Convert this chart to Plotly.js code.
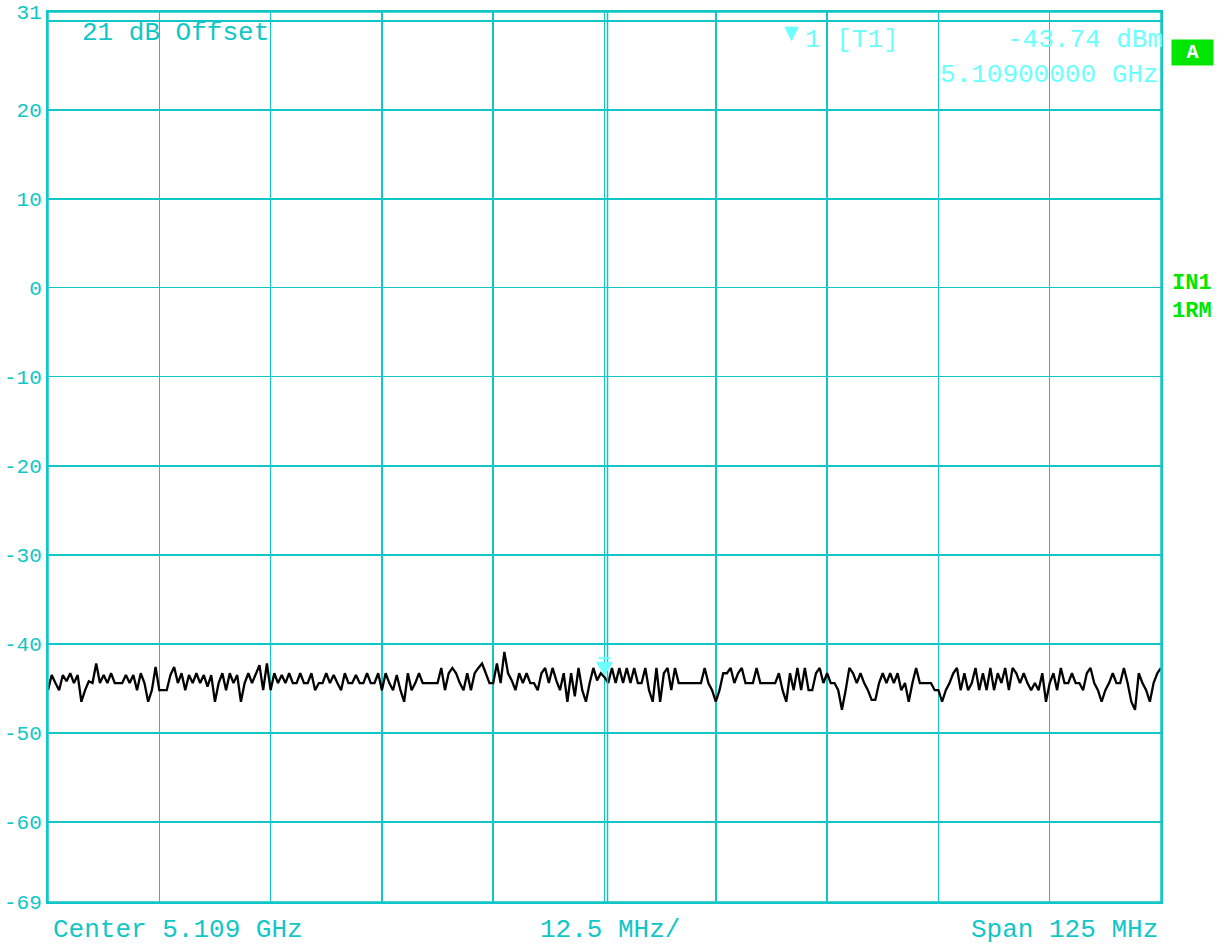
<!DOCTYPE html>
<html>
<head>
<meta charset="utf-8">
<script src="https://cdn.plot.ly/plotly-3.0.1.min.js"></script>
<style>html,body{margin:0;padding:0;background:#fff;}#chart{width:1225px;height:948px;}</style>
</head>
<body>
<div id="chart"></div>
<script>
// ---- data ----
const freqStartMHz = 5046.5;      // Center 5.109 GHz - Span/2
const freqStepMHz = 125 / 300;    // 301 sweep points over 125 MHz span
const levelDbm = [
  // div 1
  -45.2,-43.5,-44.4,-45.2,-43.5,-44.2,-43.3,-44.4,-43.5,-46.5,
  -45.2,-44.2,-44.4,-42.2,-44.4,-43.5,-44.4,-43.3,-44.4,-44.4,
  -44.4,-43.5,-44.4,-43.5,-45.2,-43.3,-44.4,-46.5,-45.2,-42.6,
  // div 2
  -45.2,-45.2,-45.2,-43.5,-42.6,-44.4,-43.3,-45.2,-43.5,-44.4,
  -43.3,-44.4,-43.5,-44.8,-43.5,-46.5,-44.4,-43.3,-45.2,-43.3,
  -44.4,-43.5,-46.5,-44.4,-43.3,-44.4,-43.3,-42.4,-45.2,-42.2,
  // div 3
  -45.2,-43.3,-44.4,-43.5,-44.4,-43.3,-44.4,-44.4,-43.3,-44.4,
  -44.4,-43.3,-45.2,-44.4,-44.4,-43.3,-44.4,-43.5,-44.4,-45.2,
  -43.3,-44.4,-44.4,-43.5,-44.4,-44.4,-43.3,-44.4,-44.4,-43.3,
  // div 4
  -45.2,-43.3,-44.4,-45.2,-43.5,-45.2,-46.5,-43.3,-45.2,-44.4,
  -43.3,-44.4,-44.4,-44.4,-44.4,-44.4,-42.7,-45.2,-43.3,-42.7,
  -43.3,-44.4,-45.2,-43.3,-45.2,-43.3,-42.7,-42.2,-43.3,-44.4,
  // div 5
  -44.4,-42.2,-44.4,-40.9,-43.3,-44.1,-45.2,-43.3,-44.4,-43.3,
  -44.4,-44.4,-45.2,-43.3,-42.7,-44.4,-42.7,-44.1,-45.2,-43.3,
  -46.5,-43.3,-45.9,-42.7,-45.2,-46.5,-44.4,-42.7,-44.1,-43.3,
  // div 6
  -43.74,-44.4,-42.7,-44.4,-42.7,-44.4,-42.7,-44.4,-42.7,-44.4,
  -44.4,-42.7,-45.2,-46.5,-42.7,-46.5,-43.3,-42.7,-45.2,-42.7,
  -44.4,-44.4,-44.4,-44.4,-44.4,-44.4,-44.4,-42.7,-44.4,-45.2,
  // div 7
  -46.5,-45.2,-43.3,-43.3,-42.7,-44.4,-43.3,-42.7,-44.4,-44.4,
  -44.4,-42.7,-44.4,-44.4,-44.4,-44.4,-44.4,-43.3,-45.2,-46.5,
  -43.3,-45.2,-42.7,-45.2,-42.7,-45.2,-45.2,-43.3,-42.7,-44.4,
  // div 8
  -43.3,-44.4,-44.4,-45.2,-47.4,-45.2,-42.7,-43.3,-44.4,-43.3,
  -44.4,-45.2,-46.3,-46.3,-44.4,-43.3,-44.4,-43.3,-44.4,-43.3,
  -45.2,-44.4,-46.5,-44.4,-42.7,-44.4,-44.4,-44.4,-44.4,-45.2,
  // div 9
  -45.2,-46.5,-45.2,-44.4,-43.3,-42.7,-45.2,-43.3,-45.2,-44.4,
  -42.7,-45.2,-43.3,-45.2,-42.7,-45.2,-43.3,-44.4,-42.7,-45.2,
  -42.7,-43.3,-44.4,-43.3,-44.4,-45.2,-44.4,-45.2,-43.3,-46.5,
  // div 10
  -44.4,-43.3,-45.2,-42.7,-44.4,-44.4,-43.3,-44.4,-44.4,-45.2,
  -43.3,-42.7,-44.4,-45.2,-46.5,-45.2,-44.4,-43.3,-44.4,-44.4,
  -42.7,-44.4,-46.5,-47.4,-43.3,-44.4,-45.2,-46.5,-44.4,-43.3,
  -42.7
];
const yTickVals = [31, 20, 10, 0, -10, -20, -30, -40, -50, -60, -69];
const yTickText = ['31', '20', '10', '0', '-10', '-20', '-30', '-40', '-50', '-60', '-69'];
const yGridVals = [30, 20, 10, 0, -10, -20, -30, -40, -50, -60];
const yRange = [-69, 31];
const xRange = [5046.5, 5171.5];
const markerFreqMHz = 5109;
const markerLevelDbm = -43.74;
const markerLabel = '1 [T1]';
const markerValueText = '-43.74 dBm';
const markerFreqText = '5.10900000 GHz';
const offsetText = '21 dB Offset';
const centerText = 'Center 5.109 GHz';
const perDivText = '12.5 MHz/';
const spanText = 'Span 125 MHz';

// ---- styling ----
const TEAL = '#10c6c6';
const LIGHT = '#6cffff';
const GREEN = '#00e600';
const MONO = 'Liberation Mono, DejaVu Sans Mono, monospace';
const L = 48, R = 64, T = 12, B = 46, W = 1225, H = 948;
const PW = W - L - R, PH = H - T - B;
const px = x => (x - L) / PW;
const py = y => 1 - (y - T) / PH;

const traces = [
  {type: 'scatter', mode: 'lines', x0: freqStartMHz, dx: freqStepMHz, y: levelDbm,
   line: {color: '#000000', width: 2.3}, hoverinfo: 'skip'},
  {type: 'scatter', mode: 'lines', x: [xRange[0]], y: [null], yaxis: 'y2', hoverinfo: 'skip', showlegend: false}
];

const annotations = [
  {xref: 'paper', yref: 'paper', x: px(80), y: py(33), xanchor: 'left', yanchor: 'middle',
   text: offsetText, showarrow: false, font: {family: MONO, size: 26, color: TEAL}},
  {xref: 'paper', yref: 'paper', x: px(782), y: py(32), xanchor: 'left', yanchor: 'middle',
   text: '▼', showarrow: false, font: {family: 'DejaVu Sans', size: 19, color: LIGHT}},
  {xref: 'paper', yref: 'paper', x: px(803), y: py(40), xanchor: 'left', yanchor: 'middle',
   text: markerLabel, showarrow: false, font: {family: MONO, size: 26, color: LIGHT}},
  {xref: 'paper', yref: 'paper', x: px(1165), y: py(40), xanchor: 'right', yanchor: 'middle',
   text: markerValueText, showarrow: false, font: {family: MONO, size: 26, color: LIGHT}},
  {xref: 'paper', yref: 'paper', x: px(1160), y: py(75), xanchor: 'right', yanchor: 'middle',
   text: markerFreqText, showarrow: false, font: {family: MONO, size: 26, color: LIGHT}},
  {xref: 'paper', yref: 'paper', x: px(1171), y: py(52), xanchor: 'left', yanchor: 'middle',
   text: '<b>A</b>', showarrow: false, width: 37, height: 21, bgcolor: GREEN, borderpad: 2,
   font: {family: MONO, size: 20, color: '#ffffff'}},
  {xref: 'paper', yref: 'paper', x: px(1170), y: py(283), xanchor: 'left', yanchor: 'middle',
   text: '<b>IN1</b>', showarrow: false, font: {family: MONO, size: 22, color: GREEN}},
  {xref: 'paper', yref: 'paper', x: px(1170), y: py(312), xanchor: 'left', yanchor: 'middle',
   text: '<b>1RM</b>', showarrow: false, font: {family: MONO, size: 22, color: GREEN}},
  {xref: 'paper', yref: 'paper', x: px(51), y: py(930), xanchor: 'left', yanchor: 'middle',
   text: centerText, showarrow: false, font: {family: MONO, size: 26, color: TEAL}},
  {xref: 'paper', yref: 'paper', x: px(538), y: py(930), xanchor: 'left', yanchor: 'middle',
   text: perDivText, showarrow: false, font: {family: MONO, size: 26, color: TEAL}},
  {xref: 'paper', yref: 'paper', x: px(1160), y: py(930), xanchor: 'right', yanchor: 'middle',
   text: spanText, showarrow: false, font: {family: MONO, size: 26, color: TEAL}}
];

const shapes = [
  // second line of the centre double line
  {type: 'line', xref: 'x', yref: 'paper', xsizemode: 'pixel', xanchor: markerFreqMHz,
   x0: 3, x1: 3, y0: 0, y1: 1, line: {color: TEAL, width: 1.5}},
  // outer frame
  {type: 'rect', xref: 'paper', yref: 'paper', x0: 0, x1: 1, y0: 0, y1: 1,
   line: {color: TEAL, width: 1.5}},
  // trace marker triangle
  {type: 'path', xref: 'x', yref: 'y', xsizemode: 'pixel', ysizemode: 'pixel',
   xanchor: markerFreqMHz, yanchor: markerLevelDbm,
   path: 'M -8 15 L 8 15 L 0 2 Z', fillcolor: LIGHT, line: {color: LIGHT, width: 1}},
  {type: 'line', xref: 'x', yref: 'y', xsizemode: 'pixel', ysizemode: 'pixel',
   xanchor: markerFreqMHz, yanchor: markerLevelDbm,
   x0: -6, x1: 6, y0: 19, y1: 19, line: {color: LIGHT, width: 2}}
];

const layout = {
  width: W, height: H,
  margin: {l: L, r: R, t: T, b: B, pad: 0},
  paper_bgcolor: '#ffffff', plot_bgcolor: '#ffffff',
  showlegend: false,
  xaxis: {range: xRange, tick0: xRange[0], dtick: 12.5, showticklabels: false,
          showgrid: true, gridcolor: TEAL, gridwidth: 1.5, zeroline: false,
          showline: true, mirror: true, linecolor: TEAL, linewidth: 2, ticks: ''},
  yaxis: {range: yRange, tickmode: 'array', tickvals: yTickVals, ticktext: yTickText,
          showgrid: false, zeroline: false, ticks: '',
          showline: true, mirror: true, linecolor: TEAL, linewidth: 2,
          tickfont: {family: MONO, size: 21, color: TEAL}},
  yaxis2: {range: yRange, overlaying: 'y', tickmode: 'array', tickvals: yGridVals,
           showticklabels: false, showgrid: true, gridcolor: TEAL, gridwidth: 1.2,
           zeroline: false, ticks: '', showline: false},
  annotations: annotations,
  shapes: shapes
};

Plotly.newPlot('chart', traces, layout, {staticPlot: true, displayModeBar: false});
</script>
</body>
</html>
